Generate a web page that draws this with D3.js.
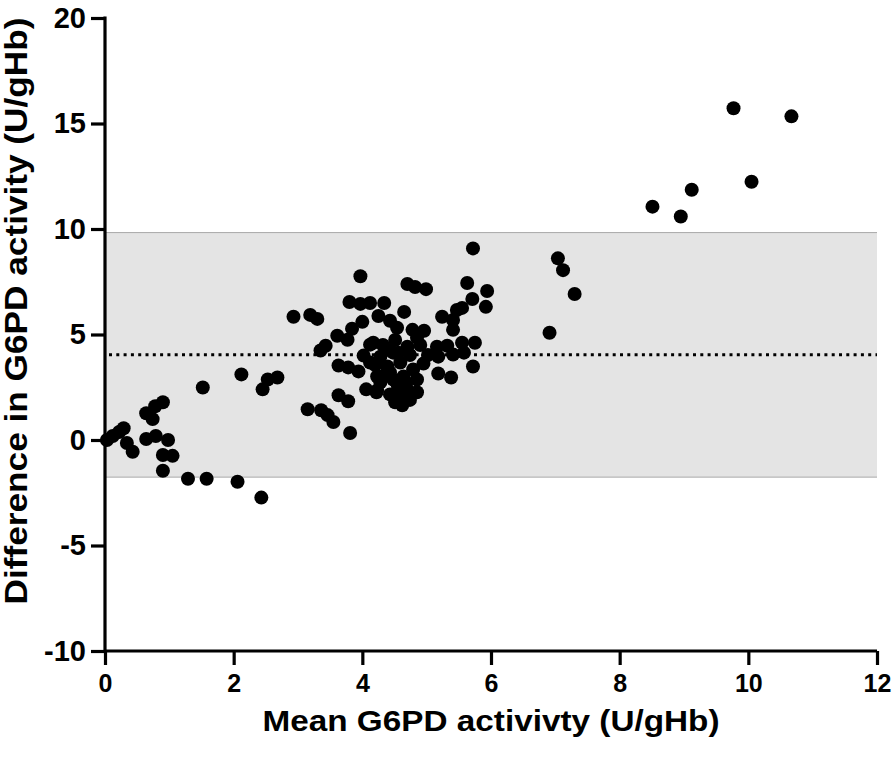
<!DOCTYPE html>
<html>
<head>
<meta charset="utf-8">
<script src="https://cdn.jsdelivr.net/npm/d3@7"></script>
<style>
  html, body { margin: 0; padding: 0; background: #ffffff; }
  svg { display: block; }
  text { font-family: "Liberation Sans", Arial, sans-serif; font-weight: bold; fill: #000; }
</style>
</head>
<body>
<svg id="chart" width="896" height="760"></svg>
<script>
// Mean G6PD activity (U/gHb) for each sample
const meanActivity = [
  0.03, 0.12, 0.22, 0.29, 0.34, 0.43, 0.64, 0.78, 0.90, 0.74,
  0.64, 0.79, 0.98, 0.90, 1.05, 0.90, 1.29, 1.58, 2.06, 2.43,
  1.52, 2.12, 2.45, 2.53, 2.68,
  2.93, 3.19, 3.30, 3.15, 3.36, 3.46, 3.55, 3.81, 3.63, 3.78,
  3.35, 3.43, 3.61, 3.77, 3.63, 3.78, 3.94, 3.97, 3.80, 3.97,
  4.12, 4.34, 4.00, 3.84, 4.06, 4.23, 4.02, 4.12, 4.12,
  4.70, 4.82, 4.99, 4.65, 4.25, 4.43, 4.54, 4.78, 4.96, 4.85,
  4.70, 4.28, 4.48, 4.39, 4.59, 4.79, 4.95, 4.23, 4.43, 4.64,
  4.85, 4.43, 4.59, 4.70, 4.85, 4.51, 4.62, 4.17, 4.39, 4.22,
  4.28, 4.48, 4.68, 4.56,
  4.32, 4.51, 4.74, 4.35, 4.55, 4.74, 5.02, 4.20, 4.90,
  5.24, 5.41, 5.41, 5.47, 5.16, 5.32, 5.55, 5.75, 5.18, 5.41,
  5.58, 5.72, 5.18, 5.38, 5.72, 5.63, 5.94, 5.71, 5.92, 5.55,
  6.91, 7.04, 7.12, 7.30, 8.51, 8.95, 9.12, 10.05, 9.77, 10.67
];
// Difference in G6PD activity (U/gHb) for each sample
const difference = [
  0.00, 0.19, 0.38, 0.56, -0.14, -0.56, 1.27, 1.60, 1.79, 0.99,
  0.05, 0.19, 0.00, -0.71, -0.75, -1.46, -1.84, -1.84, -1.98, -2.73,
  2.49, 3.11, 2.40, 2.87, 2.96,
  5.84, 5.93, 5.74, 1.46, 1.41, 1.18, 0.85, 0.33, 2.12, 1.84,
  4.24, 4.47, 4.94, 4.75, 3.53, 3.44, 3.25, 7.76, 6.54, 6.45,
  6.49, 6.49, 5.60, 5.27, 2.40, 2.35, 4.00, 4.52, 3.67,
  7.39, 7.25, 7.15, 6.07, 5.88, 5.65, 5.32, 5.22, 5.18, 4.85,
  4.42, 3.95, 4.14, 3.48, 3.67, 3.34, 3.62, 3.01, 3.20, 3.01,
  2.87, 2.16, 2.07, 2.40, 2.26, 1.79, 1.65, 4.61, 4.28, 2.26,
  2.73, 2.87, 2.73, 4.14,
  4.50, 4.74, 4.03, 3.08, 2.61, 1.90, 4.03, 3.55, 4.50,
  5.84, 5.69, 5.22, 6.16, 4.42, 4.47, 4.61, 4.61, 3.95, 4.05,
  4.14, 3.48, 3.15, 2.96, 9.08, 7.44, 7.06, 6.68, 6.31, 6.26,
  5.08, 8.61, 8.05, 6.92, 11.06, 10.59, 11.86, 12.24, 15.72, 15.34
];
const biasMean = 4.04;
const upperLimit = 9.83;
const lowerLimit = -1.76;
const xTicks = [0, 2, 4, 6, 8, 10, 12];
const yTicks = [-10, -5, 0, 5, 10, 15, 20];
const xTitle = "Mean G6PD activivty (U/gHb)";
const yTitle = "Difference in G6PD activity (U/gHb)";

const svg = d3.select("#chart");
const x = d3.scaleLinear().domain([0, 12]).range([105, 877]);
const y = d3.scaleLinear().domain([-10, 20]).range([651, 18]);

// limits of agreement band
const band = svg.append("g");
band.append("rect")
  .attr("x", x(0)).attr("width", x(12) - x(0))
  .attr("y", y(upperLimit)).attr("height", y(lowerLimit) - y(upperLimit))
  .attr("fill", "#e4e4e4");
[upperLimit, lowerLimit].forEach(v => {
  band.append("line")
    .attr("x1", x(0)).attr("x2", x(12))
    .attr("y1", y(v)).attr("y2", y(v))
    .attr("stroke", "#a8a8a8").attr("stroke-width", 1);
});

// mean bias dotted line
svg.append("line")
  .attr("x1", x(0) + 4).attr("x2", x(12))
  .attr("y1", y(biasMean)).attr("y2", y(biasMean))
  .attr("stroke", "#000").attr("stroke-width", 3)
  .attr("stroke-dasharray", "3,4.3");

// points
svg.append("g").selectAll("circle")
  .data(meanActivity.map((m, i) => [m, difference[i]]))
  .join("circle")
  .attr("cx", d => x(d[0]))
  .attr("cy", d => y(d[1]))
  .attr("r", 7)
  .attr("fill", "#000");

// axes
const fmt = d => String(d);
const xAxis = svg.append("g")
  .attr("transform", `translate(0,${y(-10)})`)
  .call(d3.axisBottom(x).tickValues(xTicks).tickSize(14).tickPadding(9).tickFormat(fmt));
const yAxis = svg.append("g")
  .attr("transform", `translate(${x(0)},0)`)
  .call(d3.axisLeft(y).tickValues(yTicks).tickSize(14).tickPadding(5).tickFormat(fmt));

[xAxis, yAxis].forEach(a => {
  a.select(".domain").attr("stroke", "#000").attr("stroke-width", 3.2);
  a.selectAll(".tick line").attr("stroke", "#000").attr("stroke-width", 3.2);
  a.selectAll(".tick text")
    .style("font-family", '"Liberation Sans", Arial, sans-serif')
    .style("font-weight", "bold")
    .attr("fill", "#000");
});
xAxis.selectAll(".tick text").style("font-size", "25px");
yAxis.selectAll(".tick text").style("font-size", "29px");
yAxis.select(".domain").attr("d", `M0,${y(20) - 1.5}V${y(-10)}`);
xAxis.select(".domain").attr("d", `M${x(0)},0H${x(12)}`);

// titles
svg.append("text")
  .attr("x", 491).attr("y", 731)
  .attr("text-anchor", "middle")
  .style("font-size", "30px")
  .attr("textLength", 457).attr("lengthAdjust", "spacingAndGlyphs")
  .text(xTitle);
svg.append("text")
  .attr("transform", "translate(27,311) rotate(-90)")
  .attr("text-anchor", "middle")
  .style("font-size", "31px")
  .attr("textLength", 587).attr("lengthAdjust", "spacingAndGlyphs")
  .text(yTitle);
</script>
</body>
</html>
